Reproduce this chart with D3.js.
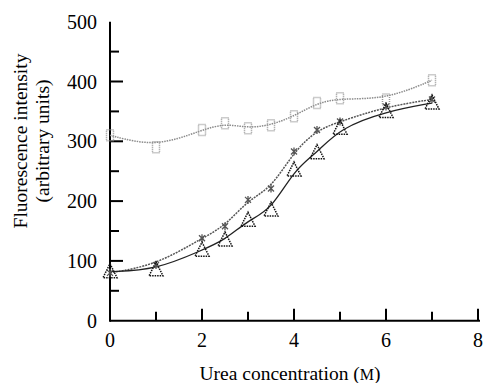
<!DOCTYPE html>
<html><head><meta charset="utf-8">
<script src="https://cdn.jsdelivr.net/npm/d3@7"></script>
<style>body{margin:0;background:#fff}svg{display:block}</style>
</head><body>
<svg id="c" width="484" height="383"></svg>
<script>
const urea = [0, 1, 2, 2.5, 3, 3.5, 4, 4.5, 5, 6, 7];
const squareSeries = [310, 290, 319, 330, 322, 327, 342, 364, 372, 370, 402];
const starSeries = [80, 93, 138, 158, 202, 221, 283, 319, 333, 358, 370];
const triangleSeries = [82, 85, 118, 135, 168, 185, 252, 281, 322, 350, 364];
const xTickLabels = [0, 2, 4, 6, 8];
const yTickLabels = [0, 100, 200, 300, 400, 500];

const svg = d3.select("#c");
const x = d3.scaleLinear().domain([0, 8]).range([110, 478]);
const y = d3.scaleLinear().domain([0, 500]).range([320.7, 21.7]);
const font = "'Liberation Serif','Times New Roman',serif";

svg.append("line").attr("x1", x(0)).attr("x2", 480).attr("y1", y(0)).attr("y2", y(0))
  .attr("stroke", "#000").attr("stroke-width", 2);
svg.append("line").attr("x1", x(0)).attr("x2", x(0)).attr("y1", y(0) + 1).attr("y2", y(500))
  .attr("stroke", "#000").attr("stroke-width", 2);

d3.range(0, 9).forEach(v => {
  const len = v % 2 === 0 ? 12 : 9;
  svg.append("line").attr("x1", x(v)).attr("x2", x(v)).attr("y1", y(0)).attr("y2", y(0) - len)
    .attr("stroke", "#000").attr("stroke-width", 2);
});
d3.range(50, 500, 50).forEach(v => {
  const len = v % 100 === 0 ? 13 : 9;
  svg.append("line").attr("x1", x(0)).attr("x2", x(0) + len).attr("y1", y(v)).attr("y2", y(v))
    .attr("stroke", "#000").attr("stroke-width", 2);
});

svg.selectAll(".xl").data(xTickLabels).enter().append("text")
  .attr("x", d => x(d)).attr("y", 347).attr("text-anchor", "middle")
  .attr("font-family", font).attr("font-size", 20).text(d => d);
svg.selectAll(".yl").data(yTickLabels).enter().append("text")
  .attr("x", 97).attr("y", d => y(d) + 7).attr("text-anchor", "end")
  .attr("font-family", font).attr("font-size", 20).text(d => d);

const xt = svg.append("text").attr("x", 290).attr("y", 380).attr("text-anchor", "middle")
  .attr("font-family", font).attr("font-size", 19.5);
xt.append("tspan").text("Urea concentration (");
xt.append("tspan").attr("font-size", 16).text("M");
xt.append("tspan").text(")");

const yt = svg.append("g").attr("transform", "translate(0,141) rotate(-90)");
yt.append("text").attr("x", 0).attr("y", 27).attr("text-anchor", "middle")
  .attr("font-family", font).attr("font-size", 19.5).text("Fluorescence intensity");
yt.append("text").attr("x", 0).attr("y", 49).attr("text-anchor", "middle")
  .attr("font-family", font).attr("font-size", 19.5).text("(arbitrary units)");

function series(vals, stroke, dash, width) {
  const pts = urea.map((u, i) => [u, vals[i]]);
  const line = d3.line().x(d => x(d[0])).y(d => y(d[1])).curve(d3.curveBasis);
  svg.append("path").attr("d", line(pts)).attr("fill", "none")
    .attr("stroke", stroke).attr("stroke-width", width).attr("stroke-dasharray", dash);
  return pts;
}
const sq = series(squareSeries, "#8a8a8a", "1.5,1", 1.5);
const st = series(starSeries, "#555", "2,1", 1.5);
const tr = series(triangleSeries, "#222", null, 1.3);

svg.selectAll(".sq").data(sq).enter().append("rect")
  .attr("x", d => x(d[0]) - 3.5).attr("y", d => y(d[1]) - 5.5).attr("width", 7).attr("height", 11)
  .attr("fill", "none").attr("stroke", "#999").attr("stroke-width", 1.5).attr("stroke-dasharray", "1,1");
const starPath = "M-3,-3L3,3M-3,3L3,-3M0,-4L0,4";
svg.selectAll(".st").data(st).enter().append("path")
  .attr("transform", d => `translate(${x(d[0])},${y(d[1])})`).attr("d", starPath)
  .attr("fill", "none").attr("stroke", "#555").attr("stroke-width", 1.3);
svg.selectAll(".tr").data(tr).enter().append("path")
  .attr("transform", d => `translate(${x(d[0])},${y(d[1])})`).attr("d", "M0,-8L7,6L-7,6Z")
  .attr("fill", "none").attr("stroke", "#111").attr("stroke-width", 1.5).attr("stroke-dasharray", "1.5,1");
</script>
</body></html>
